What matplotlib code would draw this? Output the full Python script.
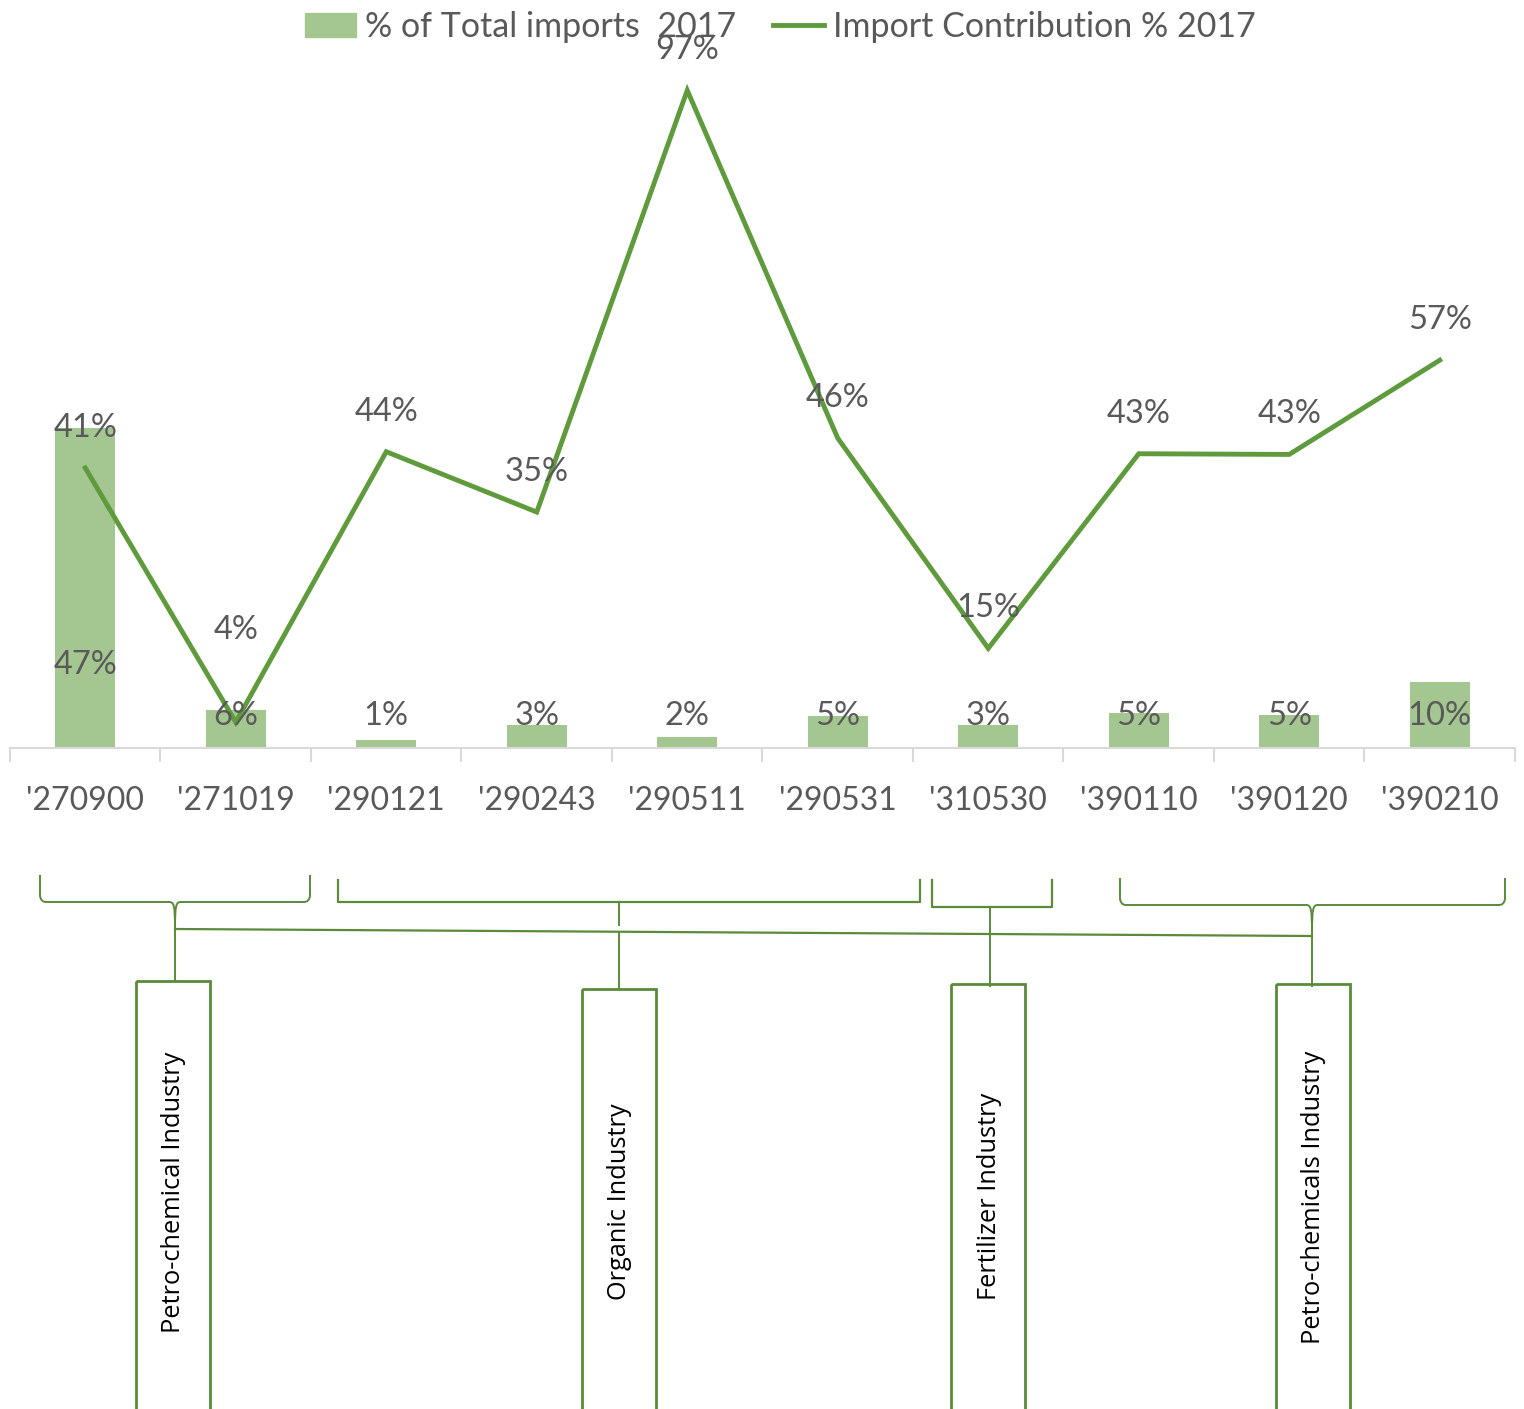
import matplotlib
matplotlib.use("Agg")
import matplotlib.pyplot as plt
from matplotlib.path import Path
from matplotlib.patches import PathPatch, Rectangle, Patch
from matplotlib.lines import Line2D
import numpy as np

# data
codes = ["'270900", "'271019", "'290121", "'290243", "'290511",
         "'290531", "'310530", "'390110", "'390120", "'390210"]
share_total = [47.2, 5.6, 1.2, 3.4, 1.6, 4.7, 3.4, 5.2, 4.9, 9.7]
import_contrib = [41.3, 3.8, 43.7, 34.8, 97.0, 45.7, 14.7, 43.4, 43.3, 57.2]
groups = ["Petro-chemical Industry", "Organic Industry",
          "Fertilizer Industry", "Petro-chemicals Industry"]

# label placement (data units)
bar_label_y = [12.3, 4.7, 4.7, 4.7, 4.7, 4.7, 4.7, 4.7, 4.7, 4.7]
line_label_dy = [5.9, 13.6, 5.9, 5.9, 5.9, 5.9, 5.9, 5.9, 5.9, 5.9]

bar_color = "#a4c690"
line_color = "#5f9b3d"
text_color = "#595959"
frame_color = "#5a8a3a"
font = "Lato"

W, H = 1524, 1409
fig = plt.figure(figsize=(W / 100, H / 100), dpi=100)

ax = fig.add_axes([10 / W, (H - 748) / H, 1505 / W, 678 / H])
x = np.arange(len(codes))
ax.bar(x, share_total, width=0.4, color=bar_color, zorder=2)
ax.plot(x, import_contrib, color=line_color, lw=3.5, zorder=3,
        solid_joinstyle="miter")
ax.set_xlim(-0.5, len(codes) - 0.5)
ax.set_ylim(0, 100)

for i in range(len(codes)):
    ax.text(i, bar_label_y[i], f"{share_total[i]:.0f}%", ha="center", va="center",
            fontsize=23.5, color=text_color, family=font, zorder=4)
    ax.text(i, import_contrib[i] + line_label_dy[i], f"{import_contrib[i]:.0f}%",
            ha="center", va="center", fontsize=23.5, color=text_color,
            family=font, zorder=4)

for s in ["top", "left", "right"]:
    ax.spines[s].set_visible(False)
ax.spines["bottom"].set_color("#d9d9d9")
ax.spines["bottom"].set_linewidth(1.5)
ax.set_yticks([])
ax.set_xticks(x)
ax.set_xticklabels(codes, fontsize=23, color=text_color, family=font)
ax.tick_params(axis="x", which="major", length=0, pad=27)
ax.set_xticks(np.arange(-0.5, len(codes), 1), minor=True)
ax.tick_params(axis="x", which="minor", length=10, width=1.5, color="#d9d9d9")

handles = [Patch(color=bar_color), Line2D([], [], color=line_color, lw=3.5)]
fig.legend(handles, ["% of Total imports  2017", "Import Contribution % 2017"],
           loc="upper center", bbox_to_anchor=(0.512, 1.014), ncol=2,
           frameon=False, prop={"family": font, "size": 24.5},
           labelcolor=text_color, handlelength=1.5, handleheight=0.7,
           handletextpad=0.25, columnspacing=1.1)

# lower part: brackets and group boxes in pixel coordinates
ov = fig.add_axes([0, 0, 1, 1])
ov.set_xlim(0, W)
ov.set_ylim(H, 0)
ov.axis("off")


def curly(x0, x1, xm, yt, yb, ytip):
    r = 6
    verts = [(x0, yt), (x0, yb - r), (x0 + 1, yb), (x0 + r, yb),
             (xm - r, yb), (xm - 1, yb), (xm, yb + 3), (xm, ytip),
             (xm, yb + 3), (xm + 1, yb), (xm + r, yb),
             (x1 - r, yb), (x1 - 1, yb), (x1, yb - r), (x1, yt)]
    codes_ = [Path.MOVETO, Path.LINETO, Path.CURVE3, Path.CURVE3,
              Path.LINETO, Path.CURVE4, Path.CURVE4, Path.CURVE4,
              Path.CURVE4, Path.CURVE4, Path.CURVE4,
              Path.LINETO, Path.CURVE3, Path.CURVE3, Path.LINETO]
    ov.add_patch(PathPatch(Path(verts, codes_), fill=False, ec=frame_color, lw=1.4))


def square(x0, x1, yt, yb):
    ov.plot([x0, x0, x1, x1], [yt, yb, yb, yt], color=frame_color, lw=1.6)


curly(40, 310, 175, 875, 902, 929)
square(338, 920, 880, 902)
square(932, 1052, 880, 907)
curly(1120, 1505, 1312, 878, 905, 934)

ov.plot([175, 1312], [929, 936], color=frame_color, lw=1.6)
ov.plot([619, 619], [902, 925], color=frame_color, lw=1.4)
ov.plot([175, 175], [929, 981], color=frame_color, lw=1.4)
ov.plot([619, 619], [932, 989], color=frame_color, lw=1.4)
ov.plot([990, 990], [907, 986], color=frame_color, lw=1.4)
ov.plot([1312, 1312], [934, 986], color=frame_color, lw=1.4)

boxes = [(136, 981), (582, 989), (951, 984), (1276, 984)]
text_y = [1192, 1202, 1196, 1197]
for (bx, by), ty, name in zip(boxes, text_y, groups):
    ov.add_patch(Rectangle((bx, by), 74, H - by + 5, fill=False,
                           ec=frame_color, lw=2))
    ov.text(bx + 38, ty, name, rotation=90, ha="center", va="center",
            fontsize=18.3, color="black", family="Open Sans")

fig.savefig("out.png", dpi=100)
